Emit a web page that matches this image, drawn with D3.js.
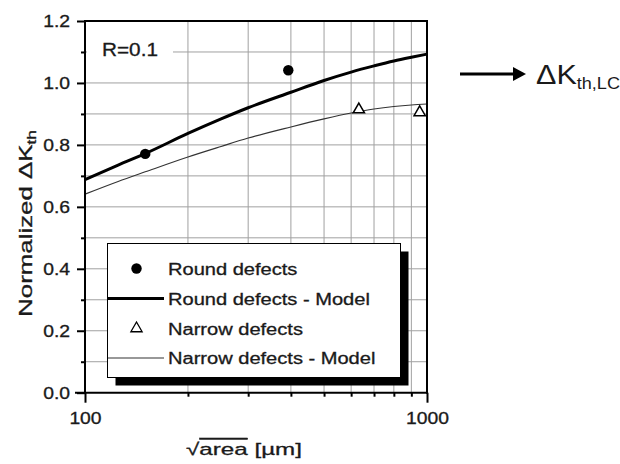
<!DOCTYPE html>
<html><head><meta charset="utf-8">
<script src="https://cdn.jsdelivr.net/npm/d3@7"></script>
<style>
html,body{margin:0;padding:0;background:#fff;}
svg{display:block;}
text{font-family:"Liberation Sans",Arial,Helvetica,sans-serif;fill:#1a1a1a;stroke:#1a1a1a;stroke-width:0.3px;}
</style></head>
<body>
<svg id="chart" width="620" height="464"></svg>
<script>
// ---- data ----
const xTickValues = [100, 1000];
const xMinorTicks = [200, 300, 400, 500, 600, 700, 800, 900];
const yTickValues = [0.0, 0.2, 0.4, 0.6, 0.8, 1.0, 1.2];
const yMinorTicks = [0.1, 0.3, 0.5, 0.7, 0.9, 1.1];
const roundDefectsX = [150, 393];
const roundDefectsY = [0.771, 1.041];
const narrowDefectsX = [632, 952];
const narrowDefectsY = [0.914, 0.905];
const modelX = [100, 125, 150, 200, 250, 300, 400, 500, 600, 700, 800, 900, 1000];
const roundModelY = [0.688, 0.735, 0.772, 0.837, 0.884, 0.920, 0.970, 1.008, 1.035, 1.055, 1.071, 1.083, 1.093];
const narrowModelY = [0.641, 0.682, 0.713, 0.761, 0.795, 0.822, 0.858, 0.884, 0.903, 0.916, 0.924, 0.929, 0.932];
const legendLabels = ["Round defects", "Round defects - Model", "Narrow defects", "Narrow defects - Model"];
const annotationText = "R=0.1";

// ---- layout ----
const svg = d3.select("#chart");
const L = 85, R = 427, T = 21, B = 392.7;
const x = d3.scaleLog().domain([100, 1000]).range([L, R]);
const y = d3.scaleLinear().domain([0, 1.2]).range([B, T]);
const gridColor = "#a0a0a0";

// text helper with horizontal stretch to a target width
function fitText(px, py, build, target, rotate) {
  const outer = svg.append("g").attr("transform", `translate(${px},${py})${rotate ? " rotate(-90)" : ""}`);
  const inner = outer.append("g");
  const t = inner.append("text");
  build(t);
  const w = t.node().getBBox().width;
  inner.attr("transform", `scale(${target / w},1)`);
  return t;
}

// grid
svg.append("g").selectAll("line").data(xMinorTicks).join("line")
  .attr("x1", d => x(d)).attr("x2", d => x(d)).attr("y1", T).attr("y2", B)
  .attr("stroke", gridColor).attr("stroke-width", 1);
svg.append("g").selectAll("line").data(yTickValues.concat(yMinorTicks).filter(v => v > 0 && v < 1.2)).join("line")
  .attr("x1", L).attr("x2", R).attr("y1", d => y(d)).attr("y2", d => y(d))
  .attr("stroke", gridColor).attr("stroke-width", 1);

// R=0.1 label with white background
svg.append("rect").attr("x", L + 2).attr("y", 37).attr("width", 86).attr("height", 28).attr("fill", "#fff");
fitText(102, 56, t => t.text(annotationText).attr("font-size", 18), 56);

// model lines
const lineGen = yArr => d3.line()
  .x((d, i) => x(modelX[i])).y((d, i) => y(yArr[i]))
  .curve(d3.curveMonotoneX)(yArr);
svg.append("path").attr("d", lineGen(narrowModelY)).attr("fill", "none")
  .attr("stroke", "#333").attr("stroke-width", 1.1);
svg.append("path").attr("d", lineGen(roundModelY)).attr("fill", "none")
  .attr("stroke", "#000").attr("stroke-width", 3);

// points
svg.append("g").selectAll("circle").data(roundDefectsX).join("circle")
  .attr("cx", d => x(d)).attr("cy", (d, i) => y(roundDefectsY[i])).attr("r", 5.2).attr("fill", "#000");
const tri = d3.symbol().type(d3.symbolTriangle).size(55);
svg.append("g").selectAll("path").data(narrowDefectsX).join("path")
  .attr("d", tri).attr("transform", (d, i) => `translate(${x(d)},${y(narrowDefectsY[i])})`)
  .attr("fill", "#fff").attr("stroke", "#000").attr("stroke-width", 1.5);

// legend
const lg = { x: 107.5, y: 243.5, w: 293, h: 134, off: 8 };
svg.append("rect").attr("x", lg.x + lg.off).attr("y", lg.y + lg.off).attr("width", lg.w).attr("height", lg.h).attr("fill", "#000");
svg.append("rect").attr("x", lg.x).attr("y", lg.y).attr("width", lg.w).attr("height", lg.h)
  .attr("fill", "#fff").attr("stroke", "#000").attr("stroke-width", 1);
const rowY = [268.5, 298.5, 328.5, 358];
svg.append("circle").attr("cx", 136.5).attr("cy", rowY[0]).attr("r", 5.2).attr("fill", "#000");
svg.append("line").attr("x1", 108).attr("x2", 164).attr("y1", rowY[1]).attr("y2", rowY[1]).attr("stroke", "#000").attr("stroke-width", 3);
svg.append("path").attr("d", tri).attr("transform", `translate(136.5,${rowY[2]})`).attr("fill", "#fff").attr("stroke", "#000").attr("stroke-width", 1.3);
svg.append("line").attr("x1", 108).attr("x2", 164).attr("y1", rowY[3]).attr("y2", rowY[3]).attr("stroke", "#333").attr("stroke-width", 1.1);
// legend text stretch factor based on measured width of the longest round label
const probe = svg.append("text").attr("font-size", 16).text(legendLabels[1]);
const legScale = 202 / probe.node().getBBox().width;
probe.remove();
legendLabels.forEach((lab, i) => {
  const g = svg.append("g").attr("transform", `translate(168,${rowY[i] + 6}) scale(${legScale},1)`);
  g.append("text").attr("font-size", 16).text(lab);
});

// axes
const probe2 = svg.append("text").attr("font-size", 16).text("1.2");
const tickScale = 27 / probe2.node().getBBox().width;
probe2.remove();

const yAxis = svg.append("g").attr("transform", `translate(${L},0)`)
  .call(d3.axisLeft(y).tickValues(yTickValues).tickSize(8).tickSizeOuter(0).tickFormat(d3.format(".1f")));
yAxis.select(".domain").remove();
yAxis.selectAll(".tick line").attr("stroke", "#000").attr("stroke-width", 2);
yAxis.selectAll(".tick text").attr("font-size", 16).attr("font-family", null).attr("fill", "#1a1a1a")
  .attr("x", 0).attr("dy", "0.35em").attr("transform", `translate(-15,0) scale(${tickScale},1)`);
svg.append("g").attr("transform", `translate(${L},0)`)
  .call(d3.axisLeft(y).tickValues(yMinorTicks).tickSize(4).tickSizeOuter(0).tickFormat(""))
  .call(g => g.select(".domain").remove())
  .selectAll(".tick line").attr("stroke", "#000").attr("stroke-width", 2);

const xAxis = svg.append("g").attr("transform", `translate(0,${B})`)
  .call(d3.axisBottom(x).tickValues(xTickValues).tickSize(10).tickSizeOuter(0).tickFormat(d3.format("d")));
xAxis.select(".domain").remove();
xAxis.selectAll(".tick line").attr("stroke", "#000").attr("stroke-width", 2);
xAxis.selectAll(".tick text").attr("font-size", 16).attr("font-family", null).attr("fill", "#1a1a1a")
  .attr("y", 0).attr("dy", 0).attr("transform", `translate(0,31.5) scale(${tickScale},1)`);
svg.append("g").attr("transform", `translate(0,${B})`)
  .call(d3.axisBottom(x).tickValues(xMinorTicks).tickSize(4).tickSizeOuter(0).tickFormat(""))
  .call(g => g.select(".domain").remove())
  .selectAll(".tick line").attr("stroke", "#000").attr("stroke-width", 2);

// frame
svg.append("line").attr("x1", L).attr("x2", L).attr("y1", T - 1).attr("y2", B + 1).attr("stroke", "#000").attr("stroke-width", 2);
svg.append("line").attr("x1", R).attr("x2", R).attr("y1", T - 1).attr("y2", B + 1).attr("stroke", "#000").attr("stroke-width", 2);
svg.append("line").attr("x1", L - 10).attr("x2", R + 1).attr("y1", B).attr("y2", B).attr("stroke", "#000").attr("stroke-width", 2);
svg.append("line").attr("x1", L).attr("x2", R + 1).attr("y1", T).attr("y2", T).attr("stroke", "#000").attr("stroke-width", 2);

// axis titles
fitText(32, 223.5, t => {
  t.attr("font-size", 18).attr("text-anchor", "middle");
  t.append("tspan").text("Normalized \u0394K");
  t.append("tspan").attr("font-size", 12).attr("dy", 4).text("th");
}, 187, true);

fitText(244, 455, t => {
  t.attr("font-size", 17).attr("text-anchor", "middle");
  t.append("tspan").text("\u221A");
  t.append("tspan").style("text-decoration", "overline").text("area");
  t.append("tspan").text(" [\u00B5m]");
}, 116);

// right annotation arrow
svg.append("line").attr("x1", 460).attr("x2", 516).attr("y1", 74).attr("y2", 74).attr("stroke", "#000").attr("stroke-width", 3);
svg.append("path").attr("d", "M513,67 L526,74 L513,81 Z").attr("fill", "#000");
fitText(536, 84, t => {
  t.attr("font-size", 27).attr("fill", "#000").style("stroke-width", "0px");
  t.append("tspan").text("\u0394K");
  t.append("tspan").attr("font-size", 16).attr("dy", 5).text("th,LC");
}, 84);
</script>
</body></html>
